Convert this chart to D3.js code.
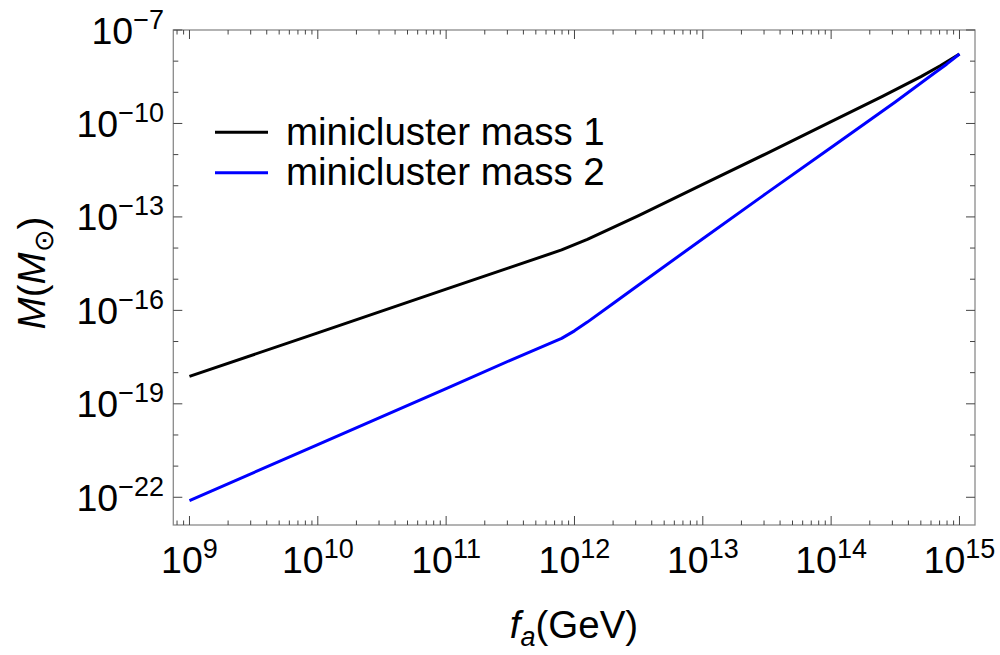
<!DOCTYPE html>
<html><head><meta charset="utf-8">
<script src="https://cdn.jsdelivr.net/npm/d3@7"></script>
<style>body{margin:0;background:#fff}svg{display:block}text{font-family:"Liberation Sans",Arial,sans-serif;fill:#000}</style>
</head><body><svg id="c" width="1000" height="655"></svg>
<script>
// f_a values (GeV)
const faBlack = [1e9, 1e10, 1e11, 3.16e11, 7.94e11, 1e12, 1.26e12, 3.16e12, 1e13, 3.16e13, 1e14, 2.51e14, 5.01e14, 7.08e14, 1e15];
const massBlack = [7.6e-19, 1.9e-17, 4.8e-16, 2.4e-15, 8.7e-15, 1.3e-14, 1.9e-14, 1.1e-13, 1.1e-12, 1.1e-11, 1.15e-10, 7.4e-10, 3.2e-9, 7.1e-9, 1.7e-8];
const faBlue = [1e9, 1e10, 1e11, 3.16e11, 7.94e11, 1e12, 1.26e12, 2.0e12, 3.16e12, 1e13, 3.16e13, 1e14, 3.16e14, 6.31e14, 7.94e14, 1e15];
const massBlue = [7.8e-23, 4.9e-21, 3.1e-19, 2.5e-18, 1.26e-17, 2.2e-17, 4.2e-17, 1.66e-16, 6.5e-16, 2.0e-14, 5.9e-13, 1.7e-11, 4.9e-10, 4.0e-9, 8.0e-9, 1.7e-8];
const seriesNames = ["minicluster mass 1", "minicluster mass 2"];
const seriesColors = ["#000000", "#0000ff"];
const xTickExp = [9, 10, 11, 12, 13, 14, 15];
const yTickExp = [-7, -10, -13, -16, -19, -22];

const svg = d3.select("#c");
const L = 173.3, R = 975, T = 30, B = 525;
const x = d3.scaleLog().domain([Math.pow(10, 8.874), Math.pow(10, 15.121)]).range([L, R]);
const y = d3.scaleLog().domain([Math.pow(10, -22.89), 1e-7]).range([B, T]);

const frame = "#8a8a8a", tickC = "#444";
svg.append("rect").attr("x", L).attr("y", T).attr("width", R - L).attr("height", B - T)
  .attr("fill", "none").attr("stroke", frame).attr("stroke-width", 1.3);

const xMinor = [];
for (let e = 8; e <= 15; e++) for (let m = 1; m <= 9; m++) {
  const v = m * Math.pow(10, e);
  if (v >= x.domain()[0] && v <= x.domain()[1]) xMinor.push({v, major: m === 1});
}
const gx = svg.append("g");
xMinor.forEach(t => {
  const px = x(t.v), len = t.major ? 9 : 4.5;
  gx.append("line").attr("x1", px).attr("x2", px).attr("y1", B).attr("y2", B - len).attr("stroke", tickC).attr("stroke-width", 1);
  gx.append("line").attr("x1", px).attr("x2", px).attr("y1", T).attr("y2", T + len).attr("stroke", tickC).attr("stroke-width", 1);
});
const gy = svg.append("g");
for (let e = -22; e <= -7; e++) {
  const v = Math.pow(10, e), py = y(v), major = yTickExp.includes(e), len = major ? 9 : 5;
  gy.append("line").attr("x1", L).attr("x2", L + len).attr("y1", py).attr("y2", py).attr("stroke", tickC).attr("stroke-width", 1);
  gy.append("line").attr("x1", R).attr("x2", R - len).attr("y1", py).attr("y2", py).attr("stroke", tickC).attr("stroke-width", 1);
}

const F = 37.5, FS = 27;
function powLabel(g, ex) {
  g.append("tspan").attr("font-size", F).text("10");
  g.append("tspan").attr("font-size", FS).attr("dy", -15).text(String(ex).replace("-", "\u2212"));
}
xTickExp.forEach(e => {
  const t = svg.append("text").attr("x", x(Math.pow(10, e))).attr("y", 573).attr("text-anchor", "middle");
  powLabel(t, e);
});
yTickExp.forEach(e => {
  const t = svg.append("text").attr("x", 164).attr("y", y(Math.pow(10, e)) + 13.5).attr("text-anchor", "end");
  powLabel(t, e);
});

const xt = svg.append("text").attr("x", 574).attr("y", 638).attr("text-anchor", "middle").attr("font-size", 38.5);
xt.append("tspan").attr("font-style", "italic").text("f");
xt.append("tspan").attr("font-style", "italic").attr("font-size", 27).attr("dy", 8).text("a");
xt.append("tspan").attr("dy", -8).text("(GeV)");

const yt = svg.append("text").attr("transform", "translate(45,273) rotate(-90)").attr("text-anchor", "middle").attr("font-size", 38.5);
yt.append("tspan").attr("font-style", "italic").text("M");
yt.append("tspan").text("(");
yt.append("tspan").attr("font-style", "italic").text("M");
yt.append("tspan").attr("font-size", 27).attr("dy", 8).text("\u2299");
yt.append("tspan").attr("dy", -8).text(")");

const line = d3.line().x(d => x(d[0])).y(d => y(d[1])).curve(d3.curveLinear);
const data = [d3.zip(faBlack, massBlack), d3.zip(faBlue, massBlue)];
svg.append("g").selectAll("path").data(data).join("path")
  .attr("d", line).attr("fill", "none")
  .attr("stroke", (d, i) => seriesColors[i]).attr("stroke-width", 3).attr("stroke-linejoin", "round");

const lg = svg.append("g");
seriesNames.forEach((n, i) => {
  const ly = 132.3 + i * 40.4;
  lg.append("line").attr("x1", 215).attr("x2", 268).attr("y1", ly).attr("y2", ly).attr("stroke", seriesColors[i]).attr("stroke-width", 3);
  lg.append("text").attr("x", 286).attr("y", ly + 12.5).attr("font-size", 38.5).text(n);
});
</script></body></html>
